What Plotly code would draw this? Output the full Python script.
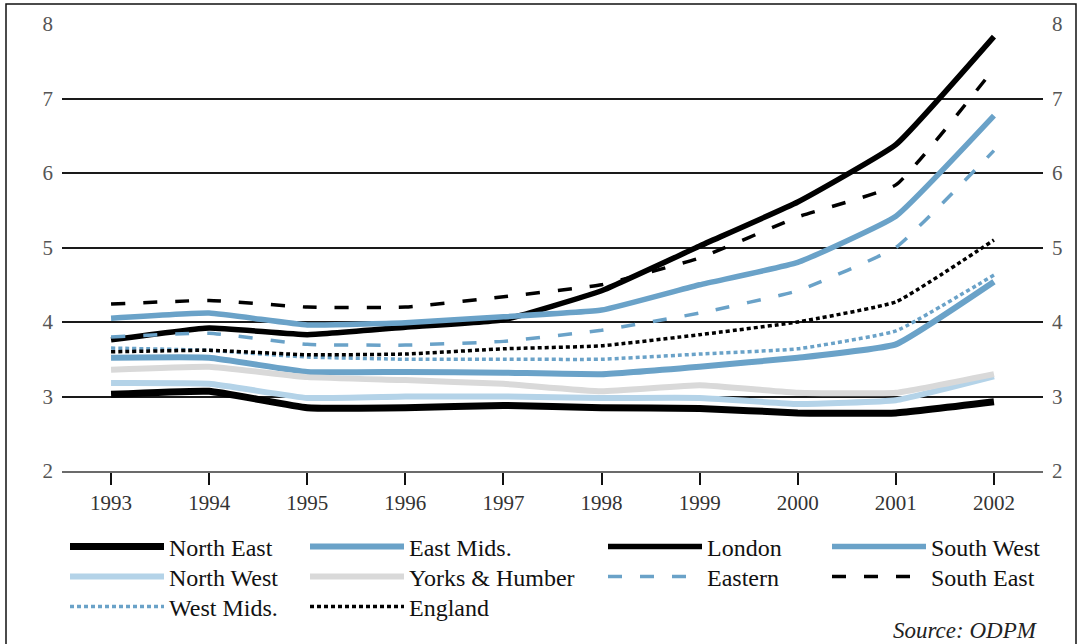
import plotly.graph_objects as go

years = [1993, 1994, 1995, 1996, 1997, 1998, 1999, 2000, 2001, 2002]

north_east = [3.03, 3.07, 2.85, 2.85, 2.88, 2.85, 2.84, 2.78, 2.78, 2.93]
north_west = [3.18, 3.17, 2.98, 3.00, 3.00, 2.98, 2.98, 2.90, 2.95, 3.27]
yorks_humber = [3.36, 3.40, 3.26, 3.22, 3.17, 3.07, 3.15, 3.05, 3.05, 3.30]
east_mids = [3.52, 3.52, 3.33, 3.33, 3.32, 3.30, 3.40, 3.52, 3.70, 4.54]
west_mids = [3.65, 3.62, 3.53, 3.50, 3.50, 3.50, 3.57, 3.64, 3.88, 4.63]
england = [3.60, 3.62, 3.56, 3.57, 3.64, 3.68, 3.83, 4.00, 4.27, 5.10]
eastern = [3.80, 3.85, 3.70, 3.69, 3.74, 3.89, 4.12, 4.42, 5.00, 6.30]
london = [3.76, 3.92, 3.83, 3.93, 4.03, 4.42, 5.02, 5.61, 6.38, 7.83]
south_west = [4.05, 4.12, 3.96, 3.99, 4.07, 4.16, 4.50, 4.80, 5.42, 6.77]
south_east = [4.24, 4.29, 4.20, 4.20, 4.34, 4.50, 4.86, 5.41, 5.84, 7.40]

y_ticks = [2, 3, 4, 5, 6, 7, 8]

BLACK = "#000000"
BLUE = "#6aa2c8"
LIGHT_BLUE = "#b4d3e8"
GREY = "#d9d9d9"

# name, values, color, width, dash, legend column, legend row
series = [
    ("North East", north_east, BLACK, 7, "solid", 0, 0),
    ("North West", north_west, LIGHT_BLUE, 6, "solid", 0, 1),
    ("West Mids.", west_mids, BLUE, 3.5, "4px,3px", 0, 2),
    ("East Mids.", east_mids, BLUE, 6, "solid", 1, 0),
    ("Yorks & Humber", yorks_humber, GREY, 6, "solid", 1, 1),
    ("England", england, BLACK, 3.5, "4px,3px", 1, 2),
    ("London", london, BLACK, 5.5, "solid", 2, 0),
    ("Eastern", eastern, BLUE, 3.5, "14px,18px", 2, 1),
    ("South West", south_west, BLUE, 5.5, "solid", 3, 0),
    ("South East", south_east, BLACK, 3.5, "14px,18px", 3, 1),
]

FONT = "Liberation Serif"
W, H = 1078, 644
L, R, T, B = 62, 35, 24, 173
pw = W - L - R
ph = H - T - B


def px_x(px):
    return (px - L) / pw


def px_y(py):
    return (H - B - py) / ph


legend_text_x = [170, 410, 708, 932]
legend_row_y = [547, 577, 607]

fig = go.Figure()
legs = {}
for i, (name, vals, color, width, dash, col, row) in enumerate(series):
    key = "legend" if i == 0 else f"legend{i+1}"
    fig.add_trace(go.Scatter(
        x=years, y=vals, name=name, mode="lines",
        line=dict(color=color, width=width, dash=dash, shape="spline", smoothing=0.35),
        legend=key,
    ))
    legs[key] = dict(
        orientation="v", yanchor="middle", xanchor="left",
        x=px_x(legend_text_x[col] - 105), y=px_y(legend_row_y[row]),
        font=dict(family=FONT, size=24, color="#111"),
        itemwidth=94, bgcolor="rgba(0,0,0,0)",
    )

# invisible trace so the right-hand axis is drawn
fig.add_trace(go.Scatter(
    x=years, y=england, yaxis="y2", mode="lines", opacity=0,
    line=dict(width=0), showlegend=False, hoverinfo="skip",
))

fig.update_layout(
    width=W, height=H,
    margin=dict(l=L, r=R, t=T, b=B),
    plot_bgcolor="white", paper_bgcolor="white",
    font=dict(family=FONT, size=20, color="#444"),
    xaxis=dict(
        range=[1992.5, 2002.5], tickvals=years, ticktext=[str(y) for y in years],
        showgrid=False, zeroline=False, showline=True, linecolor="#6b6b6b", linewidth=2,
        ticks="outside", ticklen=12, tickwidth=2, tickcolor="#111",
        tickfont=dict(family=FONT, size=21, color="#333"),
    ),
    yaxis=dict(
        range=[2, 8], tickvals=y_ticks, showgrid=True, gridcolor="#1a1a1a", gridwidth=1.5,
        zeroline=False, showline=False, ticks="", ticklabelstandoff=8,
        tickfont=dict(family=FONT, size=21, color="#555"),
    ),
    yaxis2=dict(
        range=[2, 8], tickvals=y_ticks, overlaying="y", side="right", anchor="x",
        showgrid=False, zeroline=False, showline=False, ticks="", ticklabelstandoff=8,
        tickfont=dict(family=FONT, size=21, color="#555"),
    ),
    **legs,
    showlegend=True,
)

fig.add_annotation(
    text="<i>Source: ODPM</i>", xref="paper", yref="paper",
    x=px_x(1040), y=px_y(630), xanchor="right", yanchor="middle", showarrow=False,
    font=dict(family=FONT, size=23, color="#222"),
)

# outer frame
fig.add_shape(type="rect", xref="paper", yref="paper",
              x0=px_x(6), x1=px_x(1076), y0=px_y(660), y1=px_y(4),
              line=dict(color="#111", width=1.5), fillcolor="rgba(0,0,0,0)", layer="below")

fig.write_html("out.html", config={"displayModeBar": False},
               post_script="document.body.style.margin='0';")
